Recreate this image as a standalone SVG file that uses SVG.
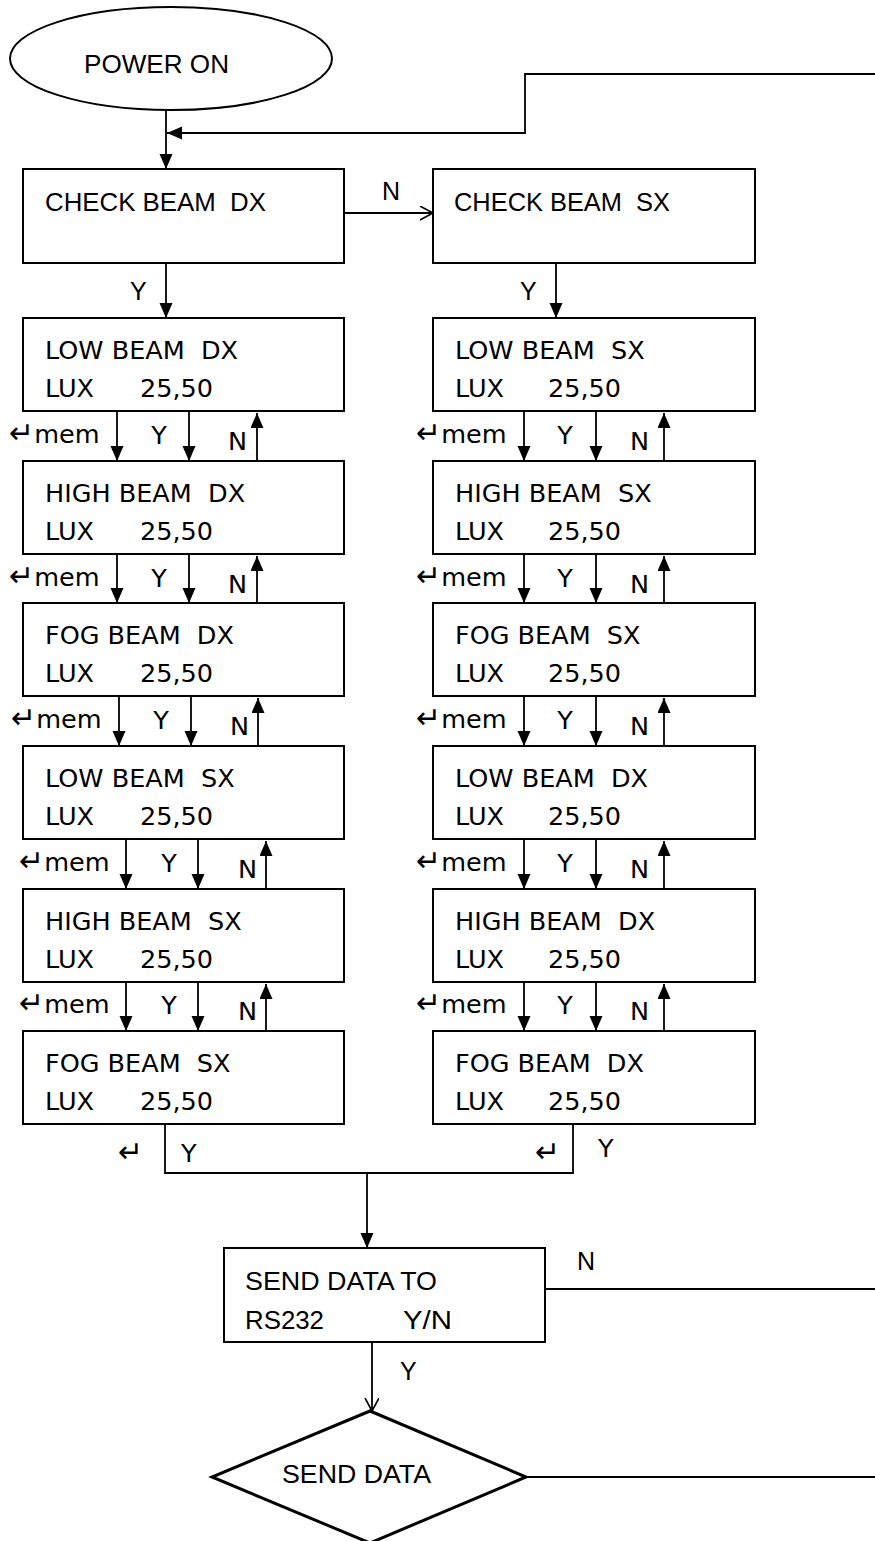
<svg xmlns="http://www.w3.org/2000/svg" width="875" height="1541" viewBox="0 0 875 1541">
<style>
.bx{fill:#fff;stroke:#000;stroke-width:2}
.ln{fill:none;stroke:#000;stroke-width:1.8}
.a{marker-end:url(#ah)}
.o{marker-end:url(#oh)}
.c{font-family:"Liberation Sans",Arial,sans-serif;font-size:25px;fill:#000}
.d{font-family:"DejaVu Sans",Verdana,sans-serif;font-size:25.5px;fill:#000}
.r{font-size:30px}
text{white-space:pre}
</style>
<defs>
<marker id="ah" markerUnits="userSpaceOnUse" markerWidth="16" markerHeight="14" refX="15" refY="6.5" orient="auto"><path d="M0,0 L15,6.5 L0,13 z" fill="#000"/></marker>
<marker id="oh" markerUnits="userSpaceOnUse" markerWidth="16" markerHeight="16" refX="13" refY="7" orient="auto"><path d="M0,0 L13,7 L0,14" fill="none" stroke="#000" stroke-width="1.6"/></marker>
</defs>

<g id="connectors">
<path class="ln a" d="M166,110 V169"/>
<path class="ln a" d="M875,74 H525 V133 H167"/>
<path class="ln o" d="M344,213 H433"/>
<path class="ln a" d="M166,263 V318"/>
<path class="ln a" d="M556,263 V318"/>
<path class="ln a" d="M117,411 V461"/><path class="ln a" d="M189,411 V461"/><path class="ln a" d="M257,461 V413"/>
<path class="ln a" d="M117,554 V603"/><path class="ln a" d="M189,554 V603"/><path class="ln a" d="M257,603 V556"/>
<path class="ln a" d="M119,696 V746"/><path class="ln a" d="M191,696 V746"/><path class="ln a" d="M258,746 V698"/>
<path class="ln a" d="M126,839 V889"/><path class="ln a" d="M198,839 V889"/><path class="ln a" d="M266,889 V841"/>
<path class="ln a" d="M126,982 V1031"/><path class="ln a" d="M198,982 V1031"/><path class="ln a" d="M266,1031 V984"/>
<path class="ln a" d="M524,411 V461"/><path class="ln a" d="M596,411 V461"/><path class="ln a" d="M664,461 V413"/>
<path class="ln a" d="M524,554 V603"/><path class="ln a" d="M596,554 V603"/><path class="ln a" d="M664,603 V556"/>
<path class="ln a" d="M524,696 V746"/><path class="ln a" d="M596,696 V746"/><path class="ln a" d="M664,746 V698"/>
<path class="ln a" d="M524,839 V889"/><path class="ln a" d="M596,839 V889"/><path class="ln a" d="M664,889 V841"/>
<path class="ln a" d="M524,982 V1031"/><path class="ln a" d="M596,982 V1031"/><path class="ln a" d="M664,1031 V984"/>
<path class="ln" d="M165,1124 V1173 H573 V1124"/>
<path class="ln a" d="M367,1173 V1248"/>
<path class="ln" d="M545,1289 H875"/>
<path class="ln o" d="M372,1342 V1411"/>
<path class="ln" d="M526,1477 H875"/>
<text class="c" x="382" y="200">N</text>
<text class="c" x="130" y="300">Y</text>
<text class="c" x="520" y="300">Y</text>
<g class="d">
<text x="9" y="443"><tspan class="r">↵</tspan>mem</text><text x="159" y="444" text-anchor="middle">Y</text><text x="228" y="450">N</text>
<text x="9" y="586"><tspan class="r">↵</tspan>mem</text><text x="159" y="587" text-anchor="middle">Y</text><text x="228" y="593">N</text>
<text x="11" y="728"><tspan class="r">↵</tspan>mem</text><text x="161" y="729" text-anchor="middle">Y</text><text x="230" y="735">N</text>
<text x="19" y="871"><tspan class="r">↵</tspan>mem</text><text x="169" y="872" text-anchor="middle">Y</text><text x="238" y="878">N</text>
<text x="19" y="1013"><tspan class="r">↵</tspan>mem</text><text x="169" y="1014" text-anchor="middle">Y</text><text x="238" y="1020">N</text>
<text x="416" y="443"><tspan class="r">↵</tspan>mem</text><text x="565" y="444" text-anchor="middle">Y</text><text x="630" y="450">N</text>
<text x="416" y="586"><tspan class="r">↵</tspan>mem</text><text x="565" y="587" text-anchor="middle">Y</text><text x="630" y="593">N</text>
<text x="416" y="728"><tspan class="r">↵</tspan>mem</text><text x="565" y="729" text-anchor="middle">Y</text><text x="630" y="735">N</text>
<text x="416" y="871"><tspan class="r">↵</tspan>mem</text><text x="565" y="872" text-anchor="middle">Y</text><text x="630" y="878">N</text>
<text x="416" y="1013"><tspan class="r">↵</tspan>mem</text><text x="565" y="1014" text-anchor="middle">Y</text><text x="630" y="1020">N</text>
<text x="118" y="1162" class="r">↵</text><text x="181" y="1162">Y</text>
<text x="535" y="1162" class="r">↵</text><text x="598" y="1157">Y</text>
</g>
<text class="c" x="577" y="1270">N</text>
<text class="c" x="400" y="1380">Y</text>
</g>

<g id="power-on">
<ellipse class="bx" cx="171" cy="58.5" rx="161" ry="51.5" stroke-width="1.6"/>
<text class="c" x="84" y="73" font-size="28" textLength="145" lengthAdjust="spacingAndGlyphs">POWER ON</text>
</g>
<g id="check-dx">
<rect class="bx" x="23" y="169" width="321" height="94"/>
<text class="c" x="45" y="211" textLength="221" lengthAdjust="spacingAndGlyphs">CHECK BEAM  DX</text>
</g>
<g id="check-sx">
<rect class="bx" x="433" y="169" width="322" height="94"/>
<text class="c" x="454" y="211" textLength="216" lengthAdjust="spacingAndGlyphs">CHECK BEAM  SX</text>
</g>

<g id="l1"><rect class="bx" x="23" y="318" width="321" height="93"/><text class="d" x="45" y="359">LOW BEAM  DX</text><text class="d" x="45" y="397">LUX</text><text class="d" x="140" y="397">25,50</text></g>
<g id="l2"><rect class="bx" x="23" y="461" width="321" height="93"/><text class="d" x="45" y="502">HIGH BEAM  DX</text><text class="d" x="45" y="540">LUX</text><text class="d" x="140" y="540">25,50</text></g>
<g id="l3"><rect class="bx" x="23" y="603" width="321" height="93"/><text class="d" x="45" y="644">FOG BEAM  DX</text><text class="d" x="45" y="682">LUX</text><text class="d" x="140" y="682">25,50</text></g>
<g id="l4"><rect class="bx" x="23" y="746" width="321" height="93"/><text class="d" x="45" y="787">LOW BEAM  SX</text><text class="d" x="45" y="825">LUX</text><text class="d" x="140" y="825">25,50</text></g>
<g id="l5"><rect class="bx" x="23" y="889" width="321" height="93"/><text class="d" x="45" y="930">HIGH BEAM  SX</text><text class="d" x="45" y="968">LUX</text><text class="d" x="140" y="968">25,50</text></g>
<g id="l6"><rect class="bx" x="23" y="1031" width="321" height="93"/><text class="d" x="45" y="1072">FOG BEAM  SX</text><text class="d" x="45" y="1110">LUX</text><text class="d" x="140" y="1110">25,50</text></g>

<g id="r1"><rect class="bx" x="433" y="318" width="322" height="93"/><text class="d" x="455" y="359">LOW BEAM  SX</text><text class="d" x="455" y="397">LUX</text><text class="d" x="548" y="397">25,50</text></g>
<g id="r2"><rect class="bx" x="433" y="461" width="322" height="93"/><text class="d" x="455" y="502">HIGH BEAM  SX</text><text class="d" x="455" y="540">LUX</text><text class="d" x="548" y="540">25,50</text></g>
<g id="r3"><rect class="bx" x="433" y="603" width="322" height="93"/><text class="d" x="455" y="644">FOG BEAM  SX</text><text class="d" x="455" y="682">LUX</text><text class="d" x="548" y="682">25,50</text></g>
<g id="r4"><rect class="bx" x="433" y="746" width="322" height="93"/><text class="d" x="455" y="787">LOW BEAM  DX</text><text class="d" x="455" y="825">LUX</text><text class="d" x="548" y="825">25,50</text></g>
<g id="r5"><rect class="bx" x="433" y="889" width="322" height="93"/><text class="d" x="455" y="930">HIGH BEAM  DX</text><text class="d" x="455" y="968">LUX</text><text class="d" x="548" y="968">25,50</text></g>
<g id="r6"><rect class="bx" x="433" y="1031" width="322" height="93"/><text class="d" x="455" y="1072">FOG BEAM  DX</text><text class="d" x="455" y="1110">LUX</text><text class="d" x="548" y="1110">25,50</text></g>

<g id="send-rs232">
<rect class="bx" x="224" y="1248" width="321" height="94"/>
<text class="c" x="245" y="1290" textLength="192" lengthAdjust="spacingAndGlyphs">SEND DATA TO</text>
<text class="c" x="245" y="1329" textLength="79" lengthAdjust="spacingAndGlyphs">RS232</text>
<text class="c" x="403" y="1329" textLength="49" lengthAdjust="spacingAndGlyphs">Y/N</text>
</g>
<g id="send-data">
<polygon points="370,1411 526,1477 370,1543 212,1477" fill="#fff" stroke="#000" stroke-width="3"/>
<text class="c" x="282" y="1483" textLength="149" lengthAdjust="spacingAndGlyphs">SEND DATA</text>
</g>
</svg>
